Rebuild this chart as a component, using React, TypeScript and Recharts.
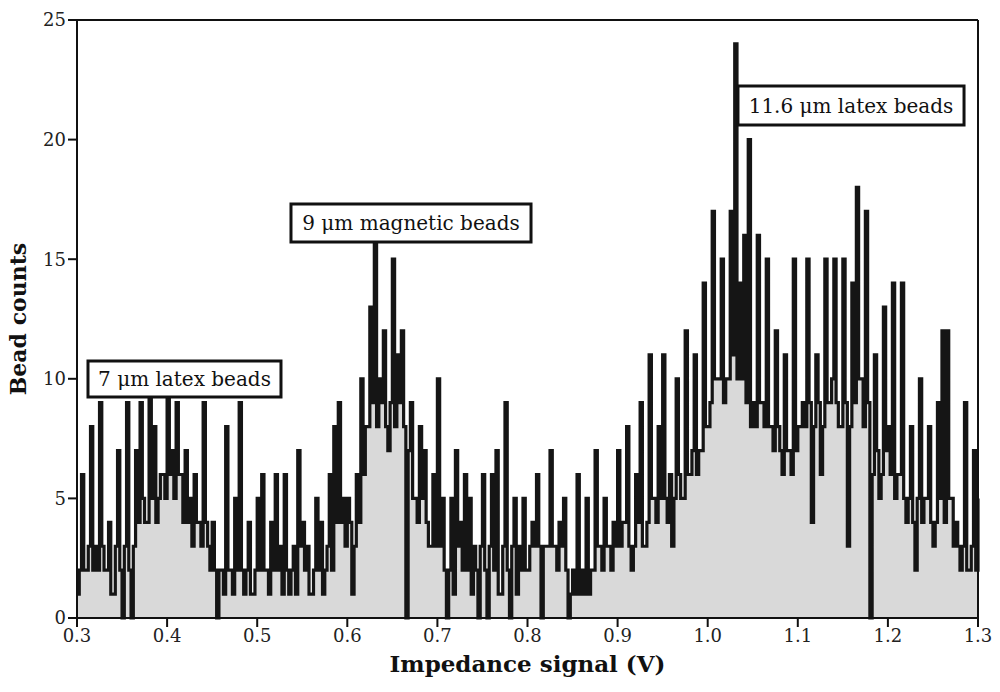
import React from "react";
import {
  ComposedChart, Area, XAxis, YAxis, ReferenceLine, ReferenceArea
} from "recharts";

// bead counts per 0.0025 V bin, one array per 0.1 V
const counts03 = [1, 2, 6, 2, 2, 3, 8, 2, 3, 2, 9, 3, 2, 2, 4, 1, 1, 3, 7, 2, 0, 3, 9, 2, 0, 3, 7, 4, 9, 5, 4, 4, 10, 5, 8, 4, 5, 6, 6, 5];
const counts04 = [10, 6, 7, 5, 9, 6, 6, 4, 7, 4, 5, 3, 6, 4, 4, 3, 9, 4, 3, 2, 4, 2, 0, 2, 2, 1, 8, 2, 2, 1, 5, 2, 9, 2, 1, 2, 4, 1, 1, 2];
const counts05 = [5, 2, 6, 2, 2, 1, 4, 2, 6, 2, 3, 1, 6, 2, 1, 2, 3, 1, 7, 3, 4, 2, 3, 1, 1, 2, 5, 2, 4, 1, 2, 3, 6, 2, 8, 4, 9, 4, 5, 3];
const counts06 = [5, 4, 1, 3, 6, 4, 10, 6, 8, 8, 13, 9, 16, 8, 10, 9, 12, 8, 7, 9, 15, 8, 11, 9, 12, 8, 0, 7, 9, 5, 5, 4, 8, 5, 7, 4, 3, 3, 6, 3];
const counts07 = [10, 3, 5, 2, 0, 2, 5, 1, 7, 3, 4, 2, 6, 2, 5, 1, 3, 2, 0, 3, 6, 2, 0, 3, 6, 2, 7, 1, 1, 3, 9, 2, 0, 3, 5, 1, 3, 2, 5, 2];
const counts08 = [2, 3, 4, 3, 6, 3, 0, 3, 3, 3, 7, 3, 3, 2, 4, 3, 5, 2, 0, 1, 2, 1, 6, 1, 2, 1, 5, 1, 2, 2, 7, 3, 3, 2, 5, 3, 3, 2, 4, 3];
const counts09 = [7, 3, 4, 4, 8, 3, 2, 3, 6, 4, 9, 3, 3, 4, 11, 5, 5, 4, 8, 5, 11, 5, 4, 6, 3, 5, 10, 6, 5, 5, 12, 6, 6, 7, 11, 6, 7, 7, 14, 8];
const counts10 = [8, 9, 17, 10, 10, 10, 15, 9, 10, 10, 17, 11, 24, 10, 14, 10, 16, 9, 20, 8, 9, 8, 16, 9, 9, 8, 15, 8, 8, 7, 12, 8, 7, 6, 11, 7, 7, 6, 15, 7];
const counts11 = [8, 8, 9, 8, 15, 9, 4, 8, 11, 9, 6, 8, 15, 9, 9, 10, 15, 9, 8, 8, 15, 9, 3, 8, 14, 9, 18, 10, 10, 8, 17, 9, 0, 6, 11, 7, 5, 6, 13, 7];
const counts12 = [8, 6, 14, 5, 6, 6, 14, 5, 4, 5, 8, 4, 2, 5, 10, 4, 5, 5, 8, 4, 3, 4, 9, 5, 12, 4, 12, 5, 5, 3, 4, 3, 2, 3, 9, 2, 2, 3, 7, 2, 5];

const startV = 0.3;
const binV = 0.0025;

const xTicks = [0.3, 0.4, 0.5, 0.6, 0.7, 0.8, 0.9, 1.0, 1.1, 1.2, 1.3];
const yTicks = [0, 5, 10, 15, 20, 25];

const labels = [
  { text: "7 \u03bcm latex beads", x1: 0.3122, x2: 0.5264, y1: 9.24, y2: 10.74 },
  { text: "9 \u03bcm magnetic beads", x1: 0.5375, x2: 0.8039, y1: 15.72, y2: 17.31 },
  { text: "11.6 \u03bcm latex beads", x1: 1.0336, x2: 1.2845, y1: 20.61, y2: 22.24 },
];

const allCounts = [
  ...counts03, ...counts04, ...counts05, ...counts06, ...counts07,
  ...counts08, ...counts09, ...counts10, ...counts11, ...counts12,
];
const data = allCounts.map((c, i) => ({
  v: +(startV + i * binV).toFixed(4),
  count: c,
}));

const serif = "'DejaVu Serif', 'Liberation Serif', serif";

export default function App() {
  return (
    <div style={{ position: "absolute", left: 0, top: 0, background: "#fff" }}>
      <ComposedChart
        width={1000}
        height={692}
        data={data}
        margin={{ top: 20, right: 22, bottom: 20, left: 22 }}
      >
        <XAxis
          dataKey="v"
          type="number"
          domain={[0.3, 1.3]}
          ticks={xTicks}
          tickFormatter={(t: number) => t.toFixed(1)}
          stroke="#111"
          strokeWidth={2}
          tickSize={9}
          tick={{ fill: "#222", fontSize: 18, fontFamily: serif }}
          height={54}
          label={{
            value: "Impedance signal (V)",
            position: "insideBottom",
            offset: 0,
            fill: "#111",
            fontSize: 23,
            fontWeight: "bold",
            fontFamily: serif,
          }}
        />
        <YAxis
          type="number"
          domain={[0, 25]}
          ticks={yTicks}
          stroke="#111"
          strokeWidth={2}
          tickSize={9}
          width={55}
          tick={{ fill: "#222", fontSize: 18, fontFamily: serif }}
          label={{
            value: "Bead counts",
            angle: -90,
            position: "insideLeft",
            offset: -4,
            style: { textAnchor: "middle" },
            fill: "#111",
            fontSize: 22,
            fontWeight: "bold",
            fontFamily: serif,
          }}
        />
        <Area
          type="stepAfter"
          dataKey="count"
          stroke="#151515"
          strokeWidth={3.2}
          fill="#d9d9d9"
          fillOpacity={1}
          isAnimationActive={false}
          dot={false}
          activeDot={false}
        />
        <ReferenceLine y={25} stroke="#111" strokeWidth={2} />
        <ReferenceLine x={1.3} stroke="#111" strokeWidth={2} />
        {labels.map((l) => (
          <ReferenceArea
            key={l.text}
            x1={l.x1}
            x2={l.x2}
            y1={l.y1}
            y2={l.y2}
            fill="#fff"
            fillOpacity={1}
            stroke="#111"
            strokeWidth={3}
            ifOverflow="visible"
            label={{
              value: l.text,
              position: "center",
              fill: "#111",
              fontSize: 20,
              fontFamily: serif,
            }}
          />
        ))}
      </ComposedChart>
    </div>
  );
}
